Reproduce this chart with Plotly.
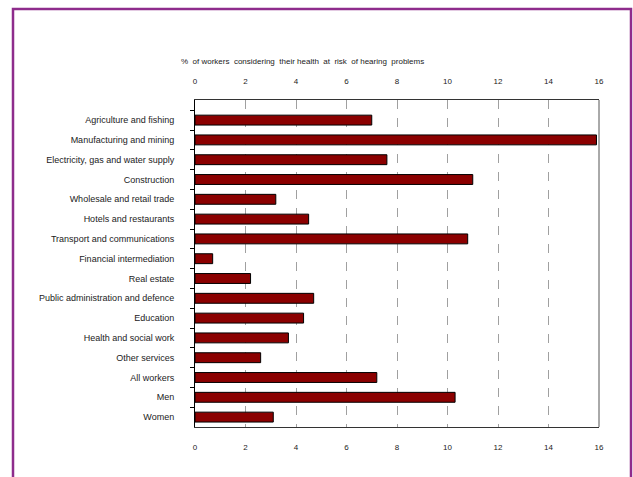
import plotly.graph_objects as go

categories = [
    "Agriculture and fishing",
    "Manufacturing and mining",
    "Electricity, gas and water supply",
    "Construction",
    "Wholesale and retail trade",
    "Hotels and restaurants",
    "Transport and communications",
    "Financial intermediation",
    "Real estate",
    "Public administration and defence",
    "Education",
    "Health and social work",
    "Other services",
    "All workers",
    "Men",
    "Women",
]
values = [7.0, 15.9, 7.6, 11.0, 3.2, 4.5, 10.8, 0.7, 2.2, 4.7, 4.3, 3.7, 2.6, 7.2, 10.3, 3.1]
tick_vals = [0, 2, 4, 6, 8, 10, 12, 14, 16]
title_text = "%  of workers  considering  their health  at  risk  of hearing  problems"

# Layout geometry in pixels (body margin removed via post_script)
W, H = 633, 477
L, R, T, B = 195, 599, 100, 427
pw, ph = R - L, B - T

def px_x(x):
    return (x - L) / pw

def px_y(y):
    return (B - y) / ph

fig = go.Figure()
fig.add_trace(go.Bar(
    x=values, y=categories, orientation="h",
    marker=dict(color="#8B0000", line=dict(color="#000000", width=1)),
    hoverinfo="x+y", showlegend=False,
))
# invisible trace for top axis
fig.add_trace(go.Scatter(x=[0, 16], y=[categories[0], categories[0]], xaxis="x2",
                         mode="markers", marker=dict(opacity=0), showlegend=False,
                         hoverinfo="skip"))

tickfont = dict(family="Liberation Sans, Arial, sans-serif", size=8, color="#222222")
catfont = dict(family="Liberation Sans, Arial, sans-serif", size=9, color="#222222")

fig.update_layout(
    width=W, height=H,
    margin=dict(l=L, r=W - R, t=T, b=H - B, pad=0),
    paper_bgcolor="white", plot_bgcolor="white",
    bargap=0.5,
    xaxis=dict(range=[0, 16], tickvals=tick_vals, showgrid=True,
               gridcolor="#a0a0a0", griddash="dash", gridwidth=1,
               showline=True, linecolor="#333333", linewidth=1, mirror=True,
               ticks="", tickfont=tickfont, zeroline=False,
               ticklabelstandoff=12),
    xaxis2=dict(range=[0, 16], tickvals=tick_vals, overlaying="x", side="top",
                showgrid=False, showline=True, linecolor="#333333", linewidth=1,
                ticks="", tickfont=tickfont,
                zeroline=False, ticklabelstandoff=12),
    yaxis=dict(autorange="reversed", type="category", showline=True,
               linecolor="#000000", linewidth=1, ticks="outside",
               tickson="boundaries", ticklen=4, tickcolor="#000000",
               tickfont=catfont, showgrid=False, ticklabelstandoff=18,
               mirror=False),
    annotations=[dict(text=title_text, x=px_x(302), y=px_y(62), xref="paper",
                      yref="paper", showarrow=False, xanchor="center",
                      yanchor="middle",
                      font=dict(family="Liberation Sans, Arial, sans-serif",
                                size=8, color="#222222"))],
    shapes=[
        dict(type="line", xref="paper", yref="paper",
             x0=1, x1=1, y0=0, y1=1,
             line=dict(color="#555555", width=1), layer="above"),
        dict(type="rect", xref="paper", yref="paper",
             x0=px_x(13), x1=px_x(631), y0=px_y(492), y1=px_y(9),
             line=dict(color="#8E2C8C", width=2.5), fillcolor="rgba(0,0,0,0)",
             layer="above"),
    ],
)

fig.write_html("out.html",
               config={"displayModeBar": False},
               post_script="document.body.style.margin='0';"
                           "document.body.style.overflow='hidden';")
